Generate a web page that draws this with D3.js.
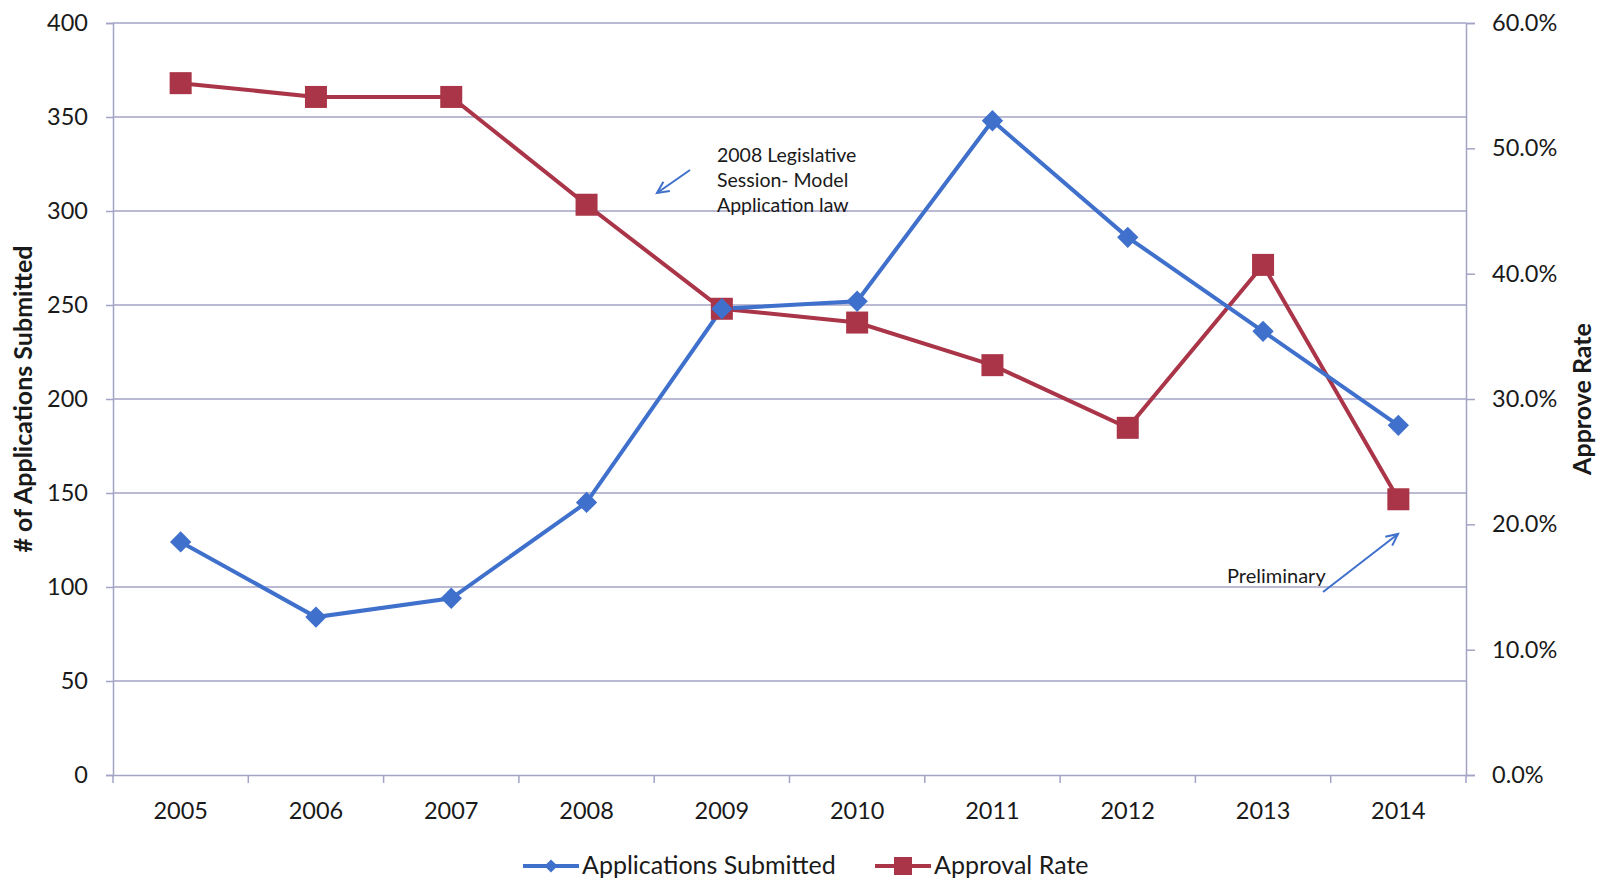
<!DOCTYPE html>
<html>
<head>
<meta charset="utf-8">
<script src="https://cdn.jsdelivr.net/npm/d3@7"></script>
<style>
  html, body { margin: 0; padding: 0; background: #fff; }
  svg text { font-family: Lato, "Open Sans", sans-serif; fill: #1a1a1a; }
</style>
</head>
<body>
<svg id="chart" width="1606" height="881"></svg>
<script>
// values
const years = ["2005", "2006", "2007", "2008", "2009", "2010", "2011", "2012", "2013", "2014"];
const applications = [124, 84, 94, 145, 248, 252, 348, 286, 236, 186];
const approvalRate = [0.552, 0.541, 0.541, 0.455, 0.372, 0.361, 0.327, 0.277, 0.407, 0.220];
const leftTicks = [0, 50, 100, 150, 200, 250, 300, 350, 400];
const rightTicks = [0, 0.1, 0.2, 0.3, 0.4, 0.5, 0.6];

const blue = "#3f70cc";
const red = "#aa3548";
const gridColor = "#a3a3c6";

const margin = { top: 23, right: 140, bottom: 106, left: 113 };
const width = 1606, height = 881;

const svg = d3.select("#chart");

const x = d3.scaleBand()
    .domain(years)
    .range([margin.left, width - margin.right]);

const yL = d3.scaleLinear().domain([0, 400]).range([height - margin.bottom, margin.top]);
const yR = d3.scaleLinear().domain([0, 0.6]).range([height - margin.bottom, margin.top]);

const cx = d => x(d) + x.bandwidth() / 2;

// gridlines
svg.append("g")
    .selectAll("line")
    .data(leftTicks.filter(d => d > 0))
    .join("line")
    .attr("x1", margin.left).attr("x2", width - margin.right)
    .attr("y1", d => yL(d)).attr("y2", d => yL(d))
    .attr("stroke", gridColor).attr("stroke-width", 1.5);

// left axis
const leftAxis = svg.append("g")
    .attr("transform", `translate(${margin.left},0)`)
    .call(d3.axisLeft(yL).tickValues(leftTicks).tickSize(7).tickPadding(18));
leftAxis.selectAll("text").style("font-size", "23.5px");

// right axis
const rightAxis = svg.append("g")
    .attr("transform", `translate(${width - margin.right},0)`)
    .call(d3.axisRight(yR).tickValues(rightTicks).tickSize(9).tickPadding(17).tickFormat(d3.format(".1%")));
rightAxis.selectAll("text").style("font-size", "23.5px");

// bottom axis: labels centered in bands, ticks on band edges
const bottomAxis = svg.append("g")
    .attr("transform", `translate(0,${height - margin.bottom})`)
    .call(d3.axisBottom(x).tickSize(0).tickPadding(27));
bottomAxis.selectAll("text").style("font-size", "23.5px");

const edges = years.map(d => x(d)).concat([x.range()[1]]);
bottomAxis.selectAll("line.edge")
    .data(edges)
    .join("line")
    .attr("class", "edge")
    .attr("x1", d => d).attr("x2", d => d)
    .attr("y1", 0).attr("y2", 8)
    .attr("stroke", gridColor).attr("stroke-width", 1.5);

[leftAxis, rightAxis, bottomAxis].forEach(a => {
    a.select(".domain").attr("stroke", gridColor).attr("stroke-width", 1.5);
    a.selectAll(".tick line").attr("stroke", gridColor).attr("stroke-width", 1.5);
});

// axis titles
svg.append("text")
    .attr("transform", `translate(32,${(margin.top + height - margin.bottom) / 2}) rotate(-90)`)
    .attr("text-anchor", "middle")
    .style("font-size", "25px").style("font-weight", "bold")
    .text("# of Applications Submitted");

svg.append("text")
    .attr("transform", `translate(1591,${(margin.top + height - margin.bottom) / 2}) rotate(-90)`)
    .attr("text-anchor", "middle")
    .style("font-size", "25px").style("font-weight", "bold")
    .text("Approve Rate");

// series
const appsLine = d3.line().x((d, i) => cx(years[i])).y(d => yL(d));
const rateLine = d3.line().x((d, i) => cx(years[i])).y(d => yR(d));

svg.append("path")
    .datum(approvalRate)
    .attr("d", rateLine)
    .attr("fill", "none").attr("stroke", red).attr("stroke-width", 4);

svg.append("path")
    .datum(applications)
    .attr("d", appsLine)
    .attr("fill", "none").attr("stroke", blue).attr("stroke-width", 4);

svg.append("g")
    .selectAll("rect")
    .data(approvalRate)
    .join("rect")
    .attr("x", (d, i) => cx(years[i]) - 11)
    .attr("y", d => yR(d) - 11)
    .attr("width", 22).attr("height", 22)
    .attr("fill", red);

const diamond = d3.symbol().type(d3.symbolDiamond2).size(290);
svg.append("g")
    .selectAll("path")
    .data(applications)
    .join("path")
    .attr("transform", (d, i) => `translate(${cx(years[i])},${yL(d)})`)
    .attr("d", diamond)
    .attr("fill", blue);

// annotations
function arrow(x1, y1, x2, y2) {
    const g = svg.append("g").attr("stroke", blue).attr("stroke-width", 2).attr("fill", "none");
    g.append("line").attr("x1", x1).attr("y1", y1).attr("x2", x2).attr("y2", y2);
    const ang = Math.atan2(y2 - y1, x2 - x1);
    const len = 13, spread = 0.45;
    const p1 = [x2 - len * Math.cos(ang - spread), y2 - len * Math.sin(ang - spread)];
    const p2 = [x2 - len * Math.cos(ang + spread), y2 - len * Math.sin(ang + spread)];
    g.append("path").attr("d", `M${p1[0]},${p1[1]}L${x2},${y2}L${p2[0]},${p2[1]}`);
}

const note = svg.append("text").style("font-size", "19.5px");
["2008 Legislative", "Session- Model", "Application law"].forEach((t, i) => {
    note.append("tspan").attr("x", 717).attr("y", 162 + i * 25).text(t);
});
arrow(690, 170, 657, 193);

svg.append("text")
    .attr("x", 1227).attr("y", 583)
    .style("font-size", "20px")
    .text("Preliminary");
arrow(1323, 592, 1398, 534);

// legend
const legend = svg.append("g").attr("transform", "translate(0,866)");
const items = [
    { name: "Applications Submitted", color: blue, x: 523, mark: "diamond" },
    { name: "Approval Rate", color: red, x: 875, mark: "square" }
];
const li = legend.selectAll("g").data(items).join("g")
    .attr("transform", d => `translate(${d.x},0)`);
li.append("line")
    .attr("x1", 0).attr("x2", 56).attr("y1", 0).attr("y2", 0)
    .attr("stroke", d => d.color).attr("stroke-width", 4);
li.filter(d => d.mark === "diamond").append("path")
    .attr("transform", "translate(28,0)")
    .attr("d", d3.symbol().type(d3.symbolDiamond2).size(110))
    .attr("fill", d => d.color);
li.filter(d => d.mark === "square").append("rect")
    .attr("x", 19).attr("y", -9).attr("width", 18).attr("height", 18)
    .attr("fill", d => d.color);
li.append("text")
    .attr("x", 59).attr("y", 8)
    .style("font-size", "25px")
    .text(d => d.name);
</script>
</body>
</html>
